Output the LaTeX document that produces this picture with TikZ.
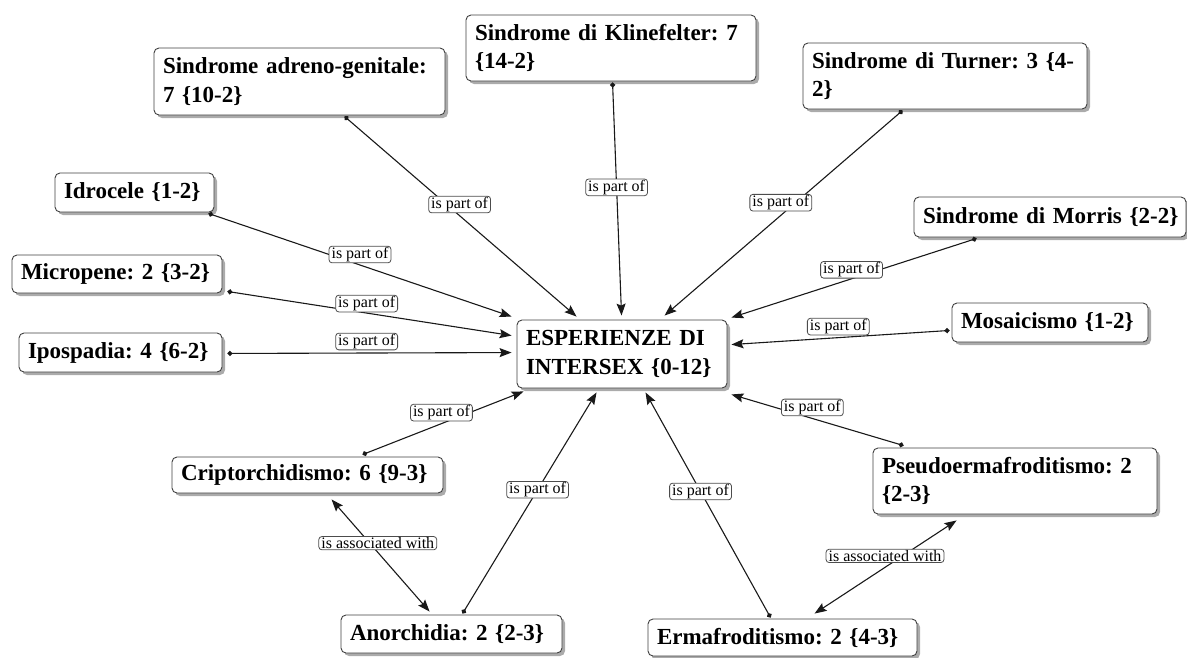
\documentclass[tikz,border=0pt]{standalone}
\usepackage{fontspec}
\setmainfont{Liberation Serif}
\usetikzlibrary{arrows.meta,calc,shadows}
\frenchspacing
\tikzset{
  box/.style={draw=black!75, line width=0.9pt, rounded corners=5pt, fill=white,
    inner xsep=9pt, inner ysep=0pt, align=left, text=black,
    font=\bfseries\fontsize{23}{28.5}\selectfont,
    drop shadow={shadow xshift=3pt, shadow yshift=-3pt, fill=black!55, opacity=0.6}},
  lbl/.style={draw=black!70, line width=0.8pt, rounded corners=3pt, fill=white,
    inner xsep=2.5pt, inner ysep=1pt, text=black, font=\fontsize{16}{17}\selectfont},
  conn/.style={line width=1.1pt, draw=black!90,
    {Circle[length=5pt]}-{Stealth[length=12pt,width=9pt,inset=2pt]}},
  assoc/.style={line width=1.1pt, draw=black!90,
    {Stealth[length=12pt,width=9pt,inset=2pt]}-{Stealth[length=12pt,width=9pt,inset=2pt]}}
}
\begin{document}
\begin{tikzpicture}[x=1pt,y=-1pt]
\useasboundingbox (0,0) rectangle (1187,657);
% boxes
\node[box, text width=192pt, minimum height=68pt] (C) at (622,354) {ESPERIENZE DI\\INTERSEX \{0-12\}};
\node[box, text width=273pt, minimum height=67pt] (AG) at (299.5,81.5) {Sindrome adreno-genitale:\\7 \{10-2\}};
\node[box, text width=272pt, minimum height=66pt] (KL) at (611,48) {Sindrome di Klinefelter: 7\\\{14-2\}};
\node[box, text width=266pt, minimum height=66pt] (TU) at (945,76) {Sindrome di Turner: 3 \{4-\\2\}};
\node[box, text width=141pt, minimum height=39pt] (ID) at (134.5,192.5) {Idrocele \{1-2\}};
\node[box, text width=254pt, minimum height=40pt] (MO) at (1050,217) {\mbox{Sindrome di Morris \{2-2\}}};
\node[box, text width=192pt, minimum height=38pt] (MI) at (117,274) {Micropene: 2 \{3-2\}};
\node[box, text width=178pt, minimum height=39pt] (MS) at (1050,322.5) {Mosaicismo \{1-2\}};
\node[box, text width=185pt, minimum height=39pt] (IP) at (120.5,352.5) {Ipospadia: 4 \{6-2\}};
\node[box, text width=253pt, minimum height=36pt] (CR) at (307.5,475) {Criptorchidismo: 6 \{9-3\}};
\node[box, text width=266pt, minimum height=66pt] (PS) at (1015,481) {Pseudoermafroditismo: 2\\\{2-3\}};
\node[box, text width=203pt, minimum height=38pt] (AN) at (451.5,634) {Anorchidia: 2 \{2-3\}};
\node[box, text width=251pt, minimum height=37pt] (ER) at (782.5,637.5) {Ermafroditismo: 2 \{4-3\}};
% connectors
\draw[conn] ($(AG.south west)+(191,1)$) -- node[lbl,pos=.44,xshift=13pt] (L1) {is part of} ($(C.north west)+(60,-3)$);
\draw[conn] ($(KL.south west)+(147,1)$) -- node[lbl,pos=.45] (L2) {is part of} ($(C.north west)+(105,-4)$);
\draw[conn] ($(TU.south west)+(100,1)$) -- node[lbl,pos=.44,xshift=-17pt,yshift=-2pt] (L3) {is part of} ($(C.north west)+(148,-4)$);
\draw[conn] ($(ID.south east)+(-6,1)$) -- node[lbl,pos=.5,yshift=10.5pt] (L4) {is part of} ($(C.north west)+(-5,-3)$);
\draw[conn] ($(MO.south west)+(63,1)$) -- node[lbl,pos=.51,yshift=9pt] (L5) {is part of} ($(C.north east)+(4,-2)$);
\draw[conn] ($(MI.south east)+(5,-2)$) -- node[lbl,pos=.49,yshift=9.5pt] (L6) {is part of} ($(C.north west)+(-5,16)$);
\draw[conn] ($(MS.south west)+(-2,-12)$) -- node[lbl,pos=.51,yshift=11pt] (L7) {is part of} ($(C.north east)+(4,25)$);
\draw[conn] ($(IP.south east)+(5,-19)$) -- node[lbl,pos=.49,yshift=11.5pt] (L8) {is part of} ($(C.north west)+(-5,33)$);
\draw[conn] ($(CR.north west)+(191,-2)$) -- node[lbl,pos=.49,yshift=11pt] (L9) {is part of} ($(C.south west)+(7,3)$);
\draw[conn] ($(AN.north west)+(122,-1)$) -- node[lbl,pos=.56] (L10) {is part of} ($(C.south west)+(80,4)$);
\draw[conn] ($(ER.north west)+(123,-1)$) -- node[lbl,pos=.56] (L11) {is part of} ($(C.south west)+(129,4)$);
\draw[conn] ($(PS.north west)+(31,-2)$) -- node[lbl,pos=.53,yshift=11pt] (L12) {is part of} ($(C.south east)+(4,6)$);
\draw[assoc] ($(CR.south west)+(160,6)$) -- node[lbl,pos=.39,xshift=8pt] (L13) {is associated with} ($(AN.north west)+(89,-3)$);
\draw[assoc] ($(PS.south west)+(84,6)$) -- node[lbl,pos=.37,xshift=-19pt,yshift=-1pt] (L14) {is associated with} ($(ER.north west)+(167,-5)$);
\end{tikzpicture}
\end{document}
